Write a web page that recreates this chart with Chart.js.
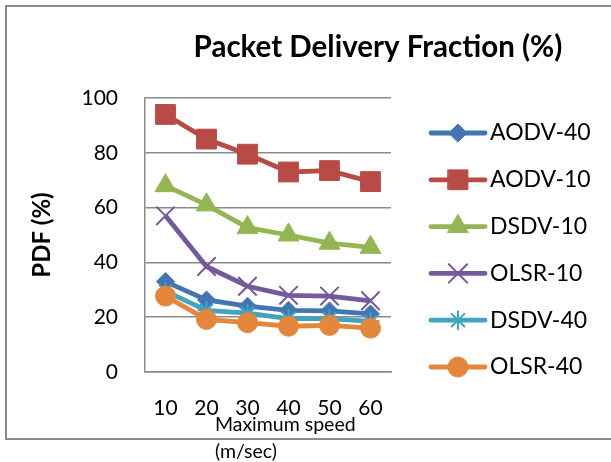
<!DOCTYPE html>
<html>
<head>
<meta charset="utf-8">
<title>Packet Delivery Fraction (%)</title>
<script src="https://cdn.jsdelivr.net/npm/chart.js@4.4.1/dist/chart.umd.min.js"></script>
<style>
  html, body { margin: 0; padding: 0; background: #fff; }
  #wrap { position: relative; width: 611px; height: 462px; overflow: hidden; }
  #frame { position: absolute; left: 5px; top: 5px; width: 650px; height: 431px; border: 2px solid #8a8a8a; }
  #chart { position: absolute; left: 0; top: 0; }
</style>
</head>
<body>
<div id="wrap">
  <div id="frame"></div>
  <canvas id="chart" width="611" height="462"></canvas>
</div>
<script>
// ====================== DATA ======================
const speeds = ['10', '20', '30', '40', '50', '60'];
const seriesNames = ['AODV-40', 'AODV-10', 'DSDV-10', 'OLSR-10', 'DSDV-40', 'OLSR-40'];

const aodv40 = [33, 26.3, 24, 22.5, 22.3, 21.2];
const aodv10 = [94, 85, 79.5, 73, 73.5, 69.5];
const dsdv10 = [68, 61, 52.7, 50, 47, 45.5];
const olsr10 = [57, 38.5, 31.3, 28, 27.7, 26];
const dsdv40 = [29.5, 22.5, 21.5, 19.5, 19.5, 18.5];
const olsr40 = [27.7, 19.2, 18, 16.7, 17, 16];

const yMin = 0, yMax = 100, yStep = 20;
const chartTitle = 'Packet Delivery Fraction (%)';
const yTitle = 'PDF (%)';
const xTitle = ['Maximum speed', '(m/sec)'];

// ====================== STYLE ======================
const FONT = 'Lato';
const styles = [
  { color: '#4276b3', point: 'rectRot', radius: 9, pw: 1 },
  { color: '#b94b46', point: 'rect', radius: 14, pw: 1 },
  { color: '#93b552', point: 'triangle', radius: 12, pw: 1 },
  { color: '#74599c', point: 'crossRot', radius: 13, pw: 2 },
  { color: '#41a4c0', point: 'star', radius: 9, pw: 2 },
  { color: '#e4863c', point: 'circle', radius: 10, pw: 1 }
];
const legendFontSize = 23;
const xPad = '\u00a0'.repeat(14);

const allSeries = [aodv40, aodv10, dsdv10, olsr10, dsdv40, olsr40];

const datasets = allSeries.map((values, i) => ({
  label: seriesNames[i],
  data: values,
  borderColor: styles[i].color,
  backgroundColor: styles[i].color,
  borderWidth: 4.8,
  tension: 0,
  pointStyle: styles[i].point,
  pointRadius: styles[i].radius,
  pointBorderWidth: styles[i].pw,
  pointBackgroundColor: styles[i].color,
  pointBorderColor: styles[i].color,
  order: allSeries.length - i
}));

// legend / title placement tweaks + line-and-marker legend samples
const excelLook = {
  id: 'excelLook',
  afterInit(chart) {
    const lg = chart.legend;
    const fit = lg.fit.bind(lg);
    lg.fit = function () { fit(); this.width = 220; };
  },
  afterLayout(chart) {
    const t = chart.titleBlock;
    t.left = 144; t.right = 612;
    const lg = chart.legend;
    lg.left = 406.2; lg.right = 611; lg.top = 97.7; lg.bottom = 440;
  },
  afterDraw(chart) {
    const ctx = chart.ctx;
    chart.legend.legendHitBoxes.forEach((box, i) => {
      const s = styles[i];
      const cy = box.top + legendFontSize / 2;
      ctx.save();
      ctx.strokeStyle = s.color;
      ctx.lineWidth = 4.8;
      ctx.lineCap = 'round';
      ctx.beginPath();
      ctx.moveTo(box.left + 1, cy);
      ctx.lineTo(box.left + 55, cy);
      ctx.stroke();
      ctx.fillStyle = s.color;
      ctx.lineWidth = s.pw;
      Chart.helpers.drawPoint(ctx, { pointStyle: s.point, radius: s.radius, rotation: 0, borderWidth: s.pw }, box.left + 28, cy);
      ctx.restore();
    });
  }
};

new Chart(document.getElementById('chart'), {
  type: 'line',
  data: { labels: speeds, datasets: datasets },
  plugins: [excelLook],
  options: {
    responsive: false,
    animation: false,
    devicePixelRatio: 1,
    layout: { padding: { left: 26, top: 18, right: 0, bottom: 0 } },
    plugins: {
      title: {
        display: true,
        text: chartTitle,
        color: '#000',
        font: { family: FONT, size: 29.5, weight: 'bold', lineHeight: 1.2 },
        padding: { top: 12, bottom: 32.6 }
      },
      legend: {
        position: 'right',
        align: 'start',
        labels: {
          color: '#000',
          font: { family: FONT, size: legendFontSize },
          boxWidth: 48.5,
          boxHeight: 4,
          padding: 23.8,
          sort: (a, b) => a.datasetIndex - b.datasetIndex,
          generateLabels(chart) {
            return Chart.defaults.plugins.legend.labels.generateLabels(chart)
              .map(l => Object.assign(l, { fillStyle: 'rgba(0,0,0,0)', lineWidth: 0 }));
          }
        }
      },
      tooltip: { enabled: false }
    },
    scales: {
      x: {
        offset: true,
        grid: { display: false, drawTicks: false },
        border: { display: true, color: '#8a8a8a', width: 1.5 },
        ticks: { color: '#000', padding: 24, font: { family: FONT, size: 21 } },
        title: {
          display: true,
          align: 'start',
          text: xTitle.map(t => xPad + t),
          color: '#000',
          font: { family: FONT, size: 19.5, lineHeight: '27px' },
          padding: { top: 0, bottom: -3.5 }
        },
        afterFit(scale) { scale.height = 90; }
      },
      y: {
        min: yMin,
        max: yMax,
        grid: { color: '#8a8a8a', lineWidth: 1.5, drawTicks: false },
        border: { display: true, color: '#8a8a8a', width: 1.5 },
        ticks: { stepSize: yStep, color: '#000', padding: 27, font: { family: FONT, size: 21 } },
        title: {
          display: true,
          text: yTitle,
          color: '#000',
          font: { family: FONT, size: 24, weight: 'bold', lineHeight: 1.2 },
          padding: { top: 2, bottom: 2 }
        },
        afterFit(scale) { scale.width = 119; }
      }
    }
  }
});
</script>
</body>
</html>
